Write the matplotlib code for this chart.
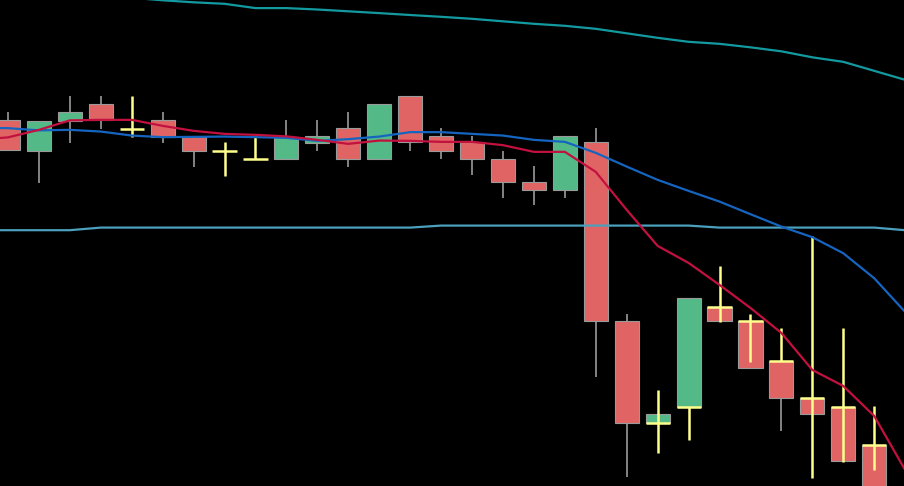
import numpy as np
import matplotlib
matplotlib.use('Agg')
import matplotlib.pyplot as plt

nan = np.nan

# candles (price units)
opens = [366, 335, 365, 382, nan, 366, 349, nan, nan, 327, 343, 358, 327, 390, 350,
         344, 327, 304, 296, 344, 165, 63, 79, 179, 165, 125, 88, 79, 41]
closes = [336, 365, 374, 366, nan, 349, 335, nan, nan, 349, 350, 327, 382, 344, 335,
          327, 304, 296, 350, 165, 63, 72, 188, 165, 118, 88, 72, 25, -15]
highs = [374, 365, 390, 390, nan, 374, 349, nan, nan, 366, 366, 374, 382, 390, 358,
         350, 335, 320, 350, 358, 172, 72, 188, 179, 165, 125, 88, 79, 41]
lows = [336, 303, 343, 357, nan, 343, 319, nan, nan, 327, 335, 319, 327, 335, 327,
        311, 288, 281, 288, 109, 9, 63, 79, 165, 118, 55, 72, 25, -15]

# yellow cross series
cross_level = [nan, nan, nan, nan, 357, nan, nan, 335, 327, nan, nan, nan, nan, nan, nan,
               nan, nan, nan, nan, nan, nan, 63, 79, 179, 165, 125, 88, 79, 41]
cross_high = [nan, nan, nan, nan, 390, nan, nan, 344, 350, nan, nan, nan, nan, nan, nan,
              nan, nan, nan, nan, nan, nan, 96, 79, 220, 172, 158, 250, 158, 80]
cross_low = [nan, nan, nan, nan, 349, nan, nan, 310, 327, nan, nan, nan, nan, nan, nan,
             nan, nan, nan, nan, nan, nan, 33, 46, 164, 124, 125, 8, 24, 16]

# lines, from one bar before the first visible candle to one bar after the last
ma_fast = [346, 348.5, 356, 365.5, 366, 366, 360, 355, 352, 351, 349.5, 346, 342, 345.3, 345,
           344, 344, 340.7, 334, 334, 314, 276, 240, 223, 201, 178, 153, 116, 100, 70, 16]
ma_slow = [358, 357.7, 355.5, 356, 354.3, 350.3, 348.7, 349, 349.3, 348.7, 348, 345, 346.7,
           349.3, 353.7, 353.7, 352, 350.3, 346, 344, 333, 319.3, 306, 295, 284.3, 271.7,
           259.3, 248.7, 232.7, 207.7, 174]
upper_band = [494, 493, 492, 491, 490, 488, 485.5, 483.5, 482, 477.7, 477.7, 476.3, 474.5,
              472.7, 470.8, 469, 467, 464.5, 462, 460, 457, 452.5, 448, 444, 442, 438.5,
              434.5, 428.5, 424, 415, 406]
mid_line = [255.7] * 4 + [258.3] * 11 + [260.3] * 9 + [258.3] * 6 + [255.7]

up_col = '#53b987'
down_col = '#e06464'
edge_col = '#9a9a9a'
cross_col = '#ffff8c'

fig = plt.figure(figsize=(9.042, 4.862), dpi=100, facecolor='black')
ax = fig.add_axes([0, 0, 1, 1])
ax.set_facecolor('black')

x = np.arange(len(opens))
o = np.array(opens, dtype=float)
c = np.array(closes, dtype=float)
h = np.array(highs, dtype=float)
l = np.array(lows, dtype=float)
w = 0.78

ok = ~np.isnan(o)
ax.vlines(x[ok], l[ok], h[ok], color=edge_col, linewidth=1.2, zorder=1)
cols = np.where(c >= o, up_col, down_col)
ax.bar(x[ok], np.abs(c - o)[ok], bottom=np.minimum(o, c)[ok], width=w,
       color=cols[ok], edgecolor=edge_col, linewidth=0.8, zorder=2)

cl = np.array(cross_level, dtype=float)
ch = np.array(cross_high, dtype=float)
clo = np.array(cross_low, dtype=float)
ok2 = ~np.isnan(cl)
ax.vlines(x[ok2], clo[ok2], ch[ok2], color=cross_col, linewidth=1.8, zorder=3)
ax.hlines(cl[ok2], x[ok2] - w / 2, x[ok2] + w / 2, color=cross_col, linewidth=1.8, zorder=3)

xl = np.arange(-1, len(opens) + 1)
ax.plot(xl, mid_line, color='#4aa0bd', linewidth=1.6, zorder=4)
ax.plot(xl, upper_band, color='#139aa0', linewidth=1.6, zorder=4)
ax.plot(xl, ma_slow, color='#1565c0', linewidth=1.6, zorder=5)
ax.plot(xl, ma_fast, color='#c2113f', linewidth=1.6, zorder=5)

ax.set_xlim(-0.2587, 28.97)
ax.set_ylim(0, 486)
ax.axis('off')

fig.savefig('out.png', dpi=100, facecolor='black')
